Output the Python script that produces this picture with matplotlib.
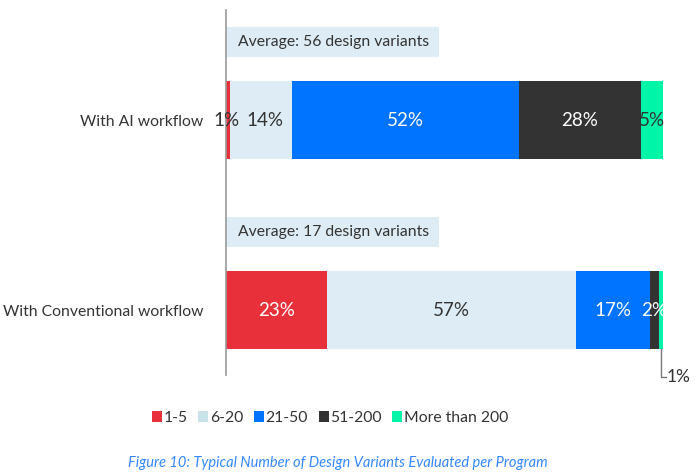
import matplotlib
matplotlib.use("Agg")
import matplotlib.pyplot as plt
from matplotlib.patches import Rectangle, Patch

plt.rcParams['font.family'] = ['Lato', 'DejaVu Sans']

categories = ["With AI workflow", "With Conventional workflow"]
series = ["1-5", "6-20", "21-50", "51-200", "More than 200"]
values = {
    "1-5": [1, 23],
    "6-20": [14, 57],
    "21-50": [52, 17],
    "51-200": [28, 2],
    "More than 200": [5, 1],
}
averages = ["Average: 56 design variants", "Average: 17 design variants"]
colors = ["#E8303A", "#DEEDF5", "#0073FF", "#333333", "#00F5A8"]
legend_colors = ["#E8303A", "#C9E1E8", "#0073FF", "#333333", "#00F5A8"]
label_colors = {
    "1-5": ["#333333", "white"],
    "6-20": ["#333333", "#333333"],
    "21-50": ["white", "white"],
    "51-200": ["white", "white"],
    "More than 200": ["#333333", "#333333"],
}

fig = plt.figure(figsize=(6.96, 4.74), dpi=100)
ax = fig.add_axes([226/696, 1-375/474, (663-226)/696, 365/474])
ax.set_xlim(0, 100)
ax.set_ylim(1.342, -0.579)

ypos = list(range(len(categories)))
bh = 0.41
left = [0.0] * len(categories)
for s, c in zip(series, colors):
    vals = values[s]
    ax.barh(ypos, vals, left=left, height=bh, color=c, linewidth=0)
    for i, v in enumerate(vals):
        cx = left[i] + v / 2
        txt = f"{v}%"
        if i == 1 and s == "More than 200":
            # leader line outside the bar
            x0 = left[i] + v / 2
            ax.plot([x0, x0, x0 + 1.2], [ypos[i] + bh/2, ypos[i] + 0.355, ypos[i] + 0.355],
                    color="#777777", lw=1, clip_on=False)
            ax.text(x0 + 1.3, ypos[i] + 0.355, txt, ha="left", va="center",
                    fontsize=12.5, color="#333333", clip_on=False)
            continue
        if i == 0 and s == "1-5":
            cx = left[i] + 0.1
        if i == 0 and s == "6-20":
            cx = left[i] + 7.8
        ax.text(cx, ypos[i], txt, ha="center", va="center", fontsize=13.5,
                color=label_colors[s][i])
    left = [l + v for l, v in zip(left, vals)]

# average boxes
for i, a in enumerate(averages):
    yc = ypos[i] - 0.41
    ax.add_patch(Rectangle((0, yc - 0.077), 48.8, 0.154, facecolor="#DEEDF5",
                           edgecolor="none", clip_on=False))
    ax.text(2.7, yc, a, ha="left", va="center", fontsize=11.3, color="#333333")

ax.set_yticks(ypos)
ax.set_yticklabels(categories, fontsize=11.3, color="#333333")
ax.tick_params(axis="y", length=0, pad=16.5)
ax.set_xticks([])
for sp in ["top", "right", "bottom"]:
    ax.spines[sp].set_visible(False)
ax.spines["left"].set_color("#999999")
ax.spines["left"].set_linewidth(1.2)

handles = [Patch(facecolor=c, edgecolor="none") for c in legend_colors]
fig.legend(handles, series, loc="center", bbox_to_anchor=(0.474, 1-418/474), ncol=5,
           frameon=False, fontsize=11.3, handlelength=0.64, handleheight=0.64,
           handletextpad=0.08, columnspacing=0.7, labelcolor="#333333")

fig.text(0.485, 1-463/474, "Figure 10: Typical Number of Design Variants Evaluated per Program",
         ha="center", va="center", fontsize=10.5, style="italic", color="#3388FF")

fig.savefig("out.png", dpi=100)
